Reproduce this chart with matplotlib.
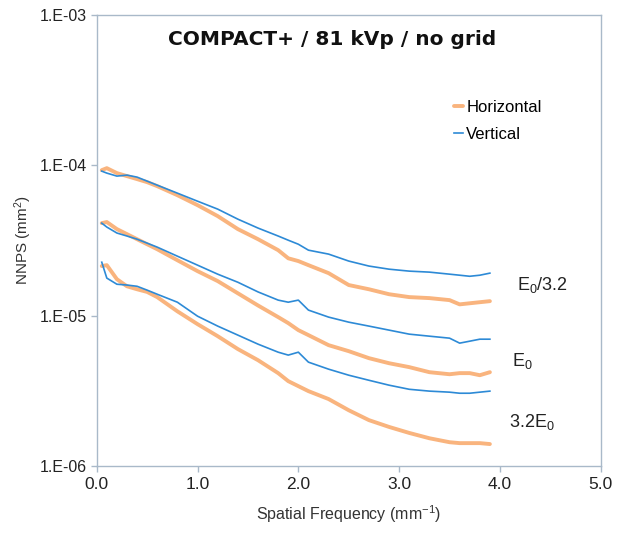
import numpy as np
import matplotlib
matplotlib.use("Agg")
import matplotlib.pyplot as plt
from matplotlib.ticker import FixedLocator, FixedFormatter

plt.rcParams["font.family"] = ["Liberation Sans", "DejaVu Sans"]
plt.rcParams["mathtext.fontset"] = "custom"
plt.rcParams["mathtext.rm"] = "Liberation Sans"
plt.rcParams["mathtext.it"] = "Liberation Sans:italic"

# frecuencia espacial (mm^-1)
freq = [0.05, 0.10, 0.20, 0.30, 0.40, 0.50, 0.60, 0.80, 1.00, 1.20, 1.40, 1.60, 1.80,
        1.90, 2.00, 2.10, 2.30, 2.50, 2.70, 2.90, 3.10, 3.30, 3.50, 3.60, 3.70, 3.80, 3.90]

# E0/3.2
horiz_low = [9.30e-5, 9.59e-5, 8.89e-5, 8.49e-5, 8.11e-5, 7.74e-5, 7.28e-5, 6.34e-5, 5.44e-5,
             4.60e-5, 3.77e-5, 3.23e-5, 2.73e-5, 2.41e-5, 2.31e-5, 2.17e-5, 1.92e-5, 1.60e-5,
             1.50e-5, 1.39e-5, 1.33e-5, 1.31e-5, 1.27e-5, 1.19e-5, 1.21e-5, 1.23e-5, 1.25e-5]
vert_low = [9.16e-5, 8.89e-5, 8.49e-5, 8.62e-5, 8.36e-5, 7.86e-5, 7.39e-5, 6.54e-5, 5.78e-5,
            5.12e-5, 4.39e-5, 3.83e-5, 3.39e-5, 3.18e-5, 2.99e-5, 2.73e-5, 2.57e-5, 2.31e-5,
            2.14e-5, 2.04e-5, 1.98e-5, 1.95e-5, 1.89e-5, 1.86e-5, 1.83e-5, 1.86e-5, 1.92e-5]

# E0
horiz_mid = [4.13e-5, 4.20e-5, 3.77e-5, 3.49e-5, 3.23e-5, 2.99e-5, 2.77e-5, 2.34e-5, 1.98e-5,
             1.70e-5, 1.41e-5, 1.17e-5, 9.79e-6, 8.93e-6, 8.02e-6, 7.43e-6, 6.37e-6, 5.81e-6,
             5.22e-6, 4.83e-6, 4.55e-6, 4.21e-6, 4.08e-6, 4.15e-6, 4.15e-6, 4.02e-6, 4.21e-6]
vert_mid = [4.13e-5, 3.89e-5, 3.55e-5, 3.39e-5, 3.23e-5, 3.04e-5, 2.86e-5, 2.49e-5, 2.17e-5,
            1.89e-5, 1.67e-5, 1.44e-5, 1.27e-5, 1.23e-5, 1.27e-5, 1.09e-5, 9.79e-6, 9.06e-6,
            8.53e-6, 8.02e-6, 7.54e-6, 7.31e-6, 7.09e-6, 6.57e-6, 6.77e-6, 6.98e-6, 6.98e-6]

# 3.2E0
horiz_high = [2.14e-5, 2.17e-5, 1.75e-5, 1.57e-5, 1.50e-5, 1.44e-5, 1.33e-5, 1.07e-5, 8.79e-6,
              7.31e-6, 6.00e-6, 5.06e-6, 4.15e-6, 3.67e-6, 3.40e-6, 3.15e-6, 2.79e-6, 2.35e-6,
              2.02e-6, 1.82e-6, 1.66e-6, 1.53e-6, 1.44e-6, 1.42e-6, 1.42e-6, 1.42e-6, 1.40e-6]
vert_high = [2.27e-5, 1.78e-5, 1.62e-5, 1.60e-5, 1.57e-5, 1.48e-5, 1.39e-5, 1.23e-5, 9.93e-6,
             8.53e-6, 7.43e-6, 6.47e-6, 5.72e-6, 5.47e-6, 5.72e-6, 4.91e-6, 4.41e-6, 4.02e-6,
             3.72e-6, 3.45e-6, 3.24e-6, 3.15e-6, 3.10e-6, 3.05e-6, 3.05e-6, 3.10e-6, 3.15e-6]

x_ticks = [0.0, 1.0, 2.0, 3.0, 4.0, 5.0]
y_ticks = [1e-6, 1e-5, 1e-4, 1e-3]
y_tick_labels = ["1.E-06", "1.E-05", "1.E-04", "1.E-03"]

naranja = "#f9b47e"
azul = "#2d8ad6"
borde = "#a9b9c9"

fig = plt.figure(figsize=(6.2, 5.4), dpi=100)
ax = fig.add_axes([0.156, 0.137, 0.813, 0.835])

pares = [(horiz_low, vert_low), (horiz_mid, vert_mid), (horiz_high, vert_high)]
for i, (h, v) in enumerate(pares):
    ax.plot(freq, h, color=naranja, lw=2.8, solid_capstyle="round",
            label="Horizontal" if i == 0 else None)
    ax.plot(freq, v, color=azul, lw=1.2, label="Vertical" if i == 0 else None)

ax.set_yscale("log")
ax.set_xlim(0, 5)
ax.set_ylim(1e-6, 1e-3)
ax.xaxis.set_major_locator(FixedLocator(x_ticks))
ax.set_xticklabels([f"{t:.1f}" for t in x_ticks])
ax.yaxis.set_major_locator(FixedLocator(y_ticks))
ax.yaxis.set_major_formatter(FixedFormatter(y_tick_labels))
ax.yaxis.set_minor_locator(FixedLocator([]))

for s in ax.spines.values():
    s.set_color(borde)
    s.set_linewidth(1.0)
ax.tick_params(axis="both", colors=borde, length=4, width=1.0, labelcolor="#222222")
ax.tick_params(axis="x", labelsize=12.5, pad=4)
ax.tick_params(axis="y", labelsize=11.5, pad=3)

ax.set_xlabel("Spatial Frequency (mm$^{-1}$)", fontsize=11.5, color="#333333", labelpad=8)
ax.set_ylabel("NNPS (mm$^{2}$)", fontsize=11, color="#333333", labelpad=4)

ax.text(0.467, 0.947, "COMPACT+ / 81 kVp / no grid", transform=ax.transAxes,
        ha="center", va="center", fontsize=14.5, fontweight="bold", color="#111111",
        family="DejaVu Sans")

ax.text(4.42, 1.6e-5, "E$_0$/3.2", fontsize=13, color="#222222", ha="center", va="center")
ax.text(4.22, 5.0e-6, "E$_0$", fontsize=13, color="#222222", ha="center", va="center")
ax.text(4.32, 1.95e-6, "3.2E$_0$", fontsize=13, color="#222222", ha="center", va="center")

ax.legend(loc="upper left", bbox_to_anchor=(0.68, 0.845), frameon=False, fontsize=12,
          handlelength=0.5, handletextpad=0.2, labelspacing=0.7)

fig.savefig("out.png", dpi=100)
